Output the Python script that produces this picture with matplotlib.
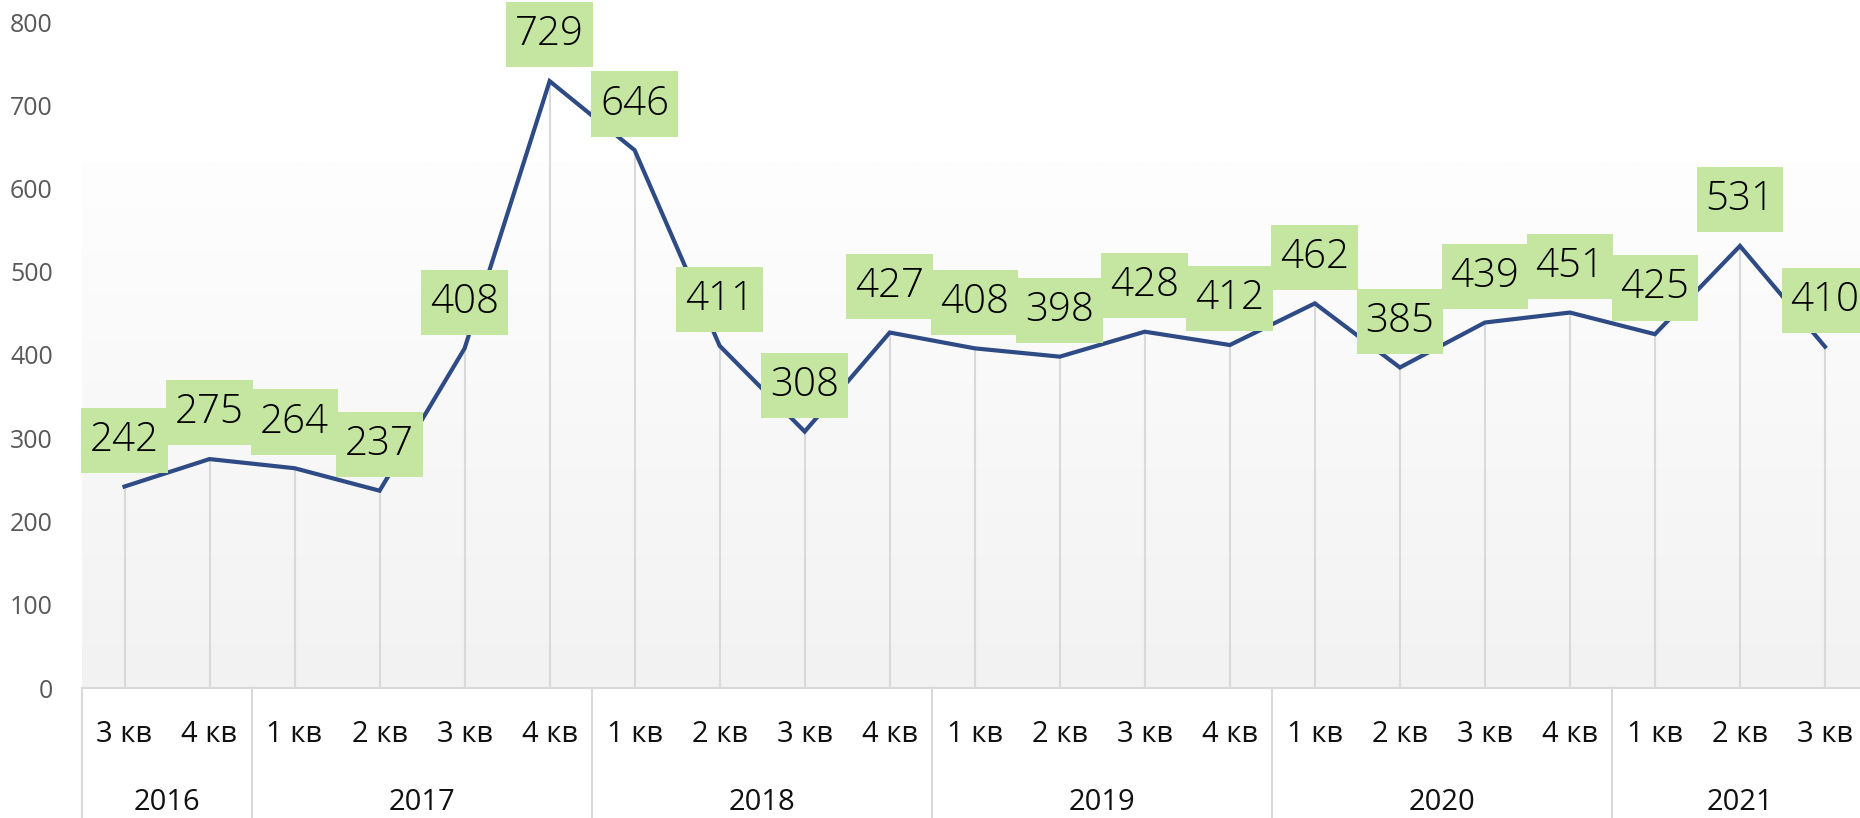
import matplotlib
matplotlib.use("Agg")
import matplotlib.pyplot as plt
import matplotlib.transforms as mtransforms
from matplotlib.colors import LinearSegmentedColormap
from matplotlib.path import Path
import numpy as np

plt.rcParams['font.family'] = ['Open Sans', 'DejaVu Sans']

years = ["2016", "2017", "2018", "2019", "2020", "2021"]
quarters_per_year = [2, 4, 4, 4, 4, 3]
quarter_labels = ["3 кв", "4 кв",
                  "1 кв", "2 кв", "3 кв", "4 кв",
                  "1 кв", "2 кв", "3 кв", "4 кв",
                  "1 кв", "2 кв", "3 кв", "4 кв",
                  "1 кв", "2 кв", "3 кв", "4 кв",
                  "1 кв", "2 кв", "3 кв"]
values = [242, 275, 264, 237, 408, 729, 646, 411, 308, 427,
          408, 398, 428, 412, 462, 385, 439, 451, 425, 531, 410]
y_ticks = [0, 100, 200, 300, 400, 500, 600, 700, 800]

W, H = 1860, 818
fig = plt.figure(figsize=(W / 100, H / 100), dpi=100)
fig.patch.set_facecolor("white")

ax_left, ax_bottom, ax_top = 82, 688, 22   # pixel positions
ax = fig.add_axes([ax_left / W, 1 - ax_bottom / H, 1 - ax_left / W, (ax_bottom - ax_top) / H])

n = len(values)
x = np.arange(n)
step_px = 85.0
first_px = 125.0
xmin = -0.5
xmax = (W - first_px) / step_px
ax.set_xlim(xmin, xmax)
ax.set_ylim(0, 800)

# gradient background
grad_top = (ax_bottom - 162) / (ax_bottom - ax_top) * 800
grad = np.linspace(0, 1, 256).reshape(-1, 1)
cmap = LinearSegmentedColormap.from_list("g", ["#f2f2f2", "#fefefe"])
ax.imshow(grad, extent=(xmin, xmax, 0, grad_top), origin="lower", aspect="auto",
          cmap=cmap, zorder=0)

# drop lines
ax.vlines(x, 0, values, colors="#d9d9d9", linewidth=1.5, zorder=1)

# main line
ax.plot(x, values, color="#2f4b85", linewidth=3.0, zorder=3, solid_joinstyle="miter")


def label_box(x0, y0, width, height, mutation_size):
    px = 0.22 * mutation_size
    py = 0.30 * mutation_size
    x0, y0 = x0 - px, y0 - py
    x1, y1 = x0 + width + 2 * px, y0 + height + 2 * py
    return Path([(x0, y0), (x1, y0), (x1, y1), (x0, y1), (x0, y0)],
                closed=True)


# data labels
for xi, v in zip(x, values):
    ax.annotate(str(v), (xi, v), xytext=(0, 18.5), textcoords="offset points",
                ha="center", va="bottom", fontsize=29, fontweight=300, color="#000000",
                bbox=dict(boxstyle=label_box, fc="#c5e6a0", ec="none"),
                zorder=4, annotation_clip=False)

# axes styling
for s in ["top", "right", "left"]:
    ax.spines[s].set_visible(False)
ax.spines["bottom"].set_color("#d9d9d9")
ax.spines["bottom"].set_linewidth(1.5)
ax.set_yticks(y_ticks)
ax.set_yticklabels([str(t) for t in y_ticks])
ax.tick_params(axis="y", length=0, pad=21, labelsize=18, labelcolor="#595959")
ax.set_xticks([])

trans = mtransforms.blended_transform_factory(ax.transData, fig.transFigure)

# quarter labels
for xi, q in zip(x, quarter_labels):
    ax.text(xi, 1 - 735 / H, q, transform=trans, ha="center", va="center",
            fontsize=21, color="#111111", clip_on=False)

# year labels and separators
start = 0
bounds = [xmin]
for yr, cnt in zip(years, quarters_per_year):
    center = start + (cnt - 1) / 2
    ax.text(center, 1 - 802 / H, yr, transform=trans, ha="center", va="center",
            fontsize=21, color="#111111", clip_on=False)
    start += cnt
    bounds.append(start - 0.5)
for b in bounds[:-1]:
    ax.plot([b, b], [0, 1 - ax_bottom / H], transform=trans, color="#d9d9d9",
            linewidth=1.5, clip_on=False)

fig.savefig("out.png", dpi=100, facecolor="white")
